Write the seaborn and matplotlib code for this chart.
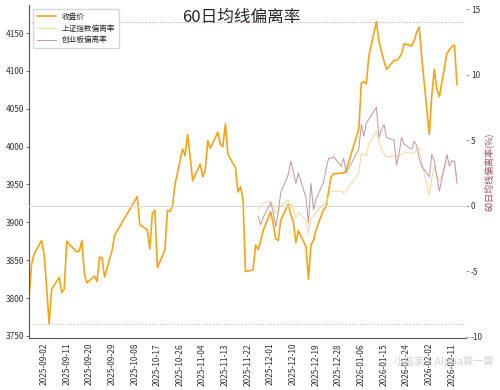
import matplotlib
matplotlib.use("Agg")
import matplotlib.pyplot as plt
import matplotlib.dates as mdates
from matplotlib.ticker import FixedLocator
import seaborn as sns
import pandas as pd

# ---- data ----
close_dates = [
    "2025-08-27", "2025-08-28", "2025-08-29", "2025-09-01", "2025-09-02", "2025-09-03", "2025-09-04",
    "2025-09-05", "2025-09-08", "2025-09-09", "2025-09-10", "2025-09-11", "2025-09-12", "2025-09-15",
    "2025-09-16", "2025-09-17", "2025-09-18", "2025-09-19", "2025-09-22", "2025-09-23", "2025-09-24",
    "2025-09-25", "2025-09-26", "2025-09-29", "2025-09-30", "2025-10-09", "2025-10-10", "2025-10-13",
    "2025-10-14", "2025-10-15", "2025-10-16", "2025-10-17", "2025-10-20", "2025-10-21", "2025-10-22",
    "2025-10-23", "2025-10-24", "2025-10-27", "2025-10-28", "2025-10-29", "2025-10-30", "2025-10-31",
    "2025-11-03", "2025-11-04", "2025-11-05", "2025-11-06", "2025-11-07", "2025-11-10", "2025-11-11",
    "2025-11-12", "2025-11-13", "2025-11-14", "2025-11-17", "2025-11-18", "2025-11-19", "2025-11-20",
    "2025-11-21", "2025-11-24", "2025-11-25", "2025-11-26", "2025-11-27", "2025-11-28", "2025-12-01",
    "2025-12-02", "2025-12-03", "2025-12-04", "2025-12-05", "2025-12-08", "2025-12-09", "2025-12-10",
    "2025-12-11", "2025-12-12", "2025-12-15", "2025-12-16", "2025-12-17", "2025-12-18", "2025-12-19",
    "2025-12-22", "2025-12-23", "2025-12-24", "2025-12-25", "2025-12-26", "2025-12-29", "2025-12-30",
    "2025-12-31", "2026-01-05", "2026-01-06", "2026-01-07", "2026-01-08", "2026-01-09", "2026-01-12",
    "2026-01-13", "2026-01-14", "2026-01-15", "2026-01-16", "2026-01-19", "2026-01-20", "2026-01-21",
    "2026-01-22", "2026-01-23", "2026-01-26", "2026-01-27", "2026-01-28", "2026-01-29", "2026-01-30",
    "2026-02-02", "2026-02-03", "2026-02-04", "2026-02-05", "2026-02-06", "2026-02-09", "2026-02-10",
    "2026-02-11", "2026-02-12", "2026-02-13",
]
close_vals = [
    3800, 3844, 3858, 3876, 3858, 3814, 3766,
    3812, 3827, 3807, 3812, 3875, 3871, 3861,
    3862, 3876, 3832, 3820, 3829, 3822, 3854,
    3853, 3828, 3863, 3883, 3934, 3897, 3890,
    3865, 3912, 3916, 3840, 3864, 3916, 3914,
    3922, 3950, 3997, 3988, 4016, 3987, 3955,
    3977, 3960, 3969, 4008, 3998, 4019, 4003,
    4000, 4030, 3990, 3972, 3940, 3947, 3931,
    3835, 3837, 3870, 3864, 3875, 3889, 3914,
    3898, 3878, 3876, 3903, 3924, 3910, 3901,
    3873, 3889, 3868, 3825, 3870, 3876, 3890,
    3917, 3920, 3941, 3960, 3964, 3965, 3965,
    3969, 4023, 4084, 4086, 4083, 4120, 4165,
    4139, 4126, 4113, 4102, 4114, 4114, 4117,
    4123, 4136, 4133, 4140, 4151, 4158, 4118,
    4016, 4068, 4102, 4076, 4066, 4123, 4128,
    4132, 4134, 4082,
]

# deviation series start once 60 trading days are available
dev_dates = close_dates[59:]
sh_dev = [
    -0.3, 0.0, 0.2, 0.35, 0.0, -0.6, -0.4, 0.0, 0.4, 0.1,
    -0.3, -0.9, -0.5, -1.1, -2.1, -1.0, -0.8, -0.5, 0.1, 0.2,
    0.7, 1.1, 1.1, 1.1, 1.0, 1.1, 2.5, 4.0, 3.9, 3.8,
    4.7, 5.7, 4.9, 4.4, 4.0, 3.7, 3.8, 3.8, 3.8, 3.9,
    4.1, 4.0, 4.0, 4.3, 4.4, 3.3, 0.8, 2.1, 3.0, 2.3,
    1.9, 3.3, 3.4, 3.4, 3.4, 2.2,
]
cyb_dev = [
    -0.8, -1.45, -0.9, 0.25, -0.5, -1.6, -0.5, 1.0, 2.4, 3.4,
    2.6, 1.7, 2.5, 0.6, -1.3, 1.7, -0.3, 0.5, 1.8, 2.8,
    3.6, 3.6, 3.75, 3.0, 3.6, 2.5, 4.3, 6.2, 5.3, 6.3,
    6.6, 7.5, 5.2, 5.8, 6.2, 5.2, 5.0, 3.1, 4.0, 5.2,
    4.7, 4.3, 4.9, 4.6, 3.6, 3.0, 2.2, 3.9, 3.4, 2.2,
    1.1, 3.9, 3.0, 3.4, 3.4, 1.7,
]

tick_dates = [
    "2025-09-02", "2025-09-11", "2025-09-20", "2025-09-29", "2025-10-08", "2025-10-17",
    "2025-10-26", "2025-11-04", "2025-11-13", "2025-11-22", "2025-12-01", "2025-12-10",
    "2025-12-19", "2025-12-28", "2026-01-06", "2026-01-15", "2026-01-24", "2026-02-02",
    "2026-02-11",
]

l0 = "收盘价"
l1 = "上证指数偏离率"
l2 = "创业板偏离率"

c_close = "#f5a414"
c_sh = "#f3d79b"
c_cyb = "#bd95a4"

FONT = ["Noto Sans CJK SC", "DejaVu Sans"]

sns.set_style("white")
plt.rcParams["font.family"] = FONT
plt.rcParams["axes.unicode_minus"] = False

df_close = pd.DataFrame({"date": pd.to_datetime(close_dates), "close": close_vals})
df_dev = pd.DataFrame({"date": pd.to_datetime(dev_dates), "sh": sh_dev, "cyb": cyb_dev})

fig = plt.figure(figsize=(5, 3.9), dpi=100)
ax = fig.add_axes([0.058, 0.133, 0.874, 0.854])
ax2 = ax.twinx()

sns.lineplot(data=df_close, x="date", y="close", color=c_close, linewidth=1.2, label=l0, ax=ax, legend=False)
sns.lineplot(data=df_dev, x="date", y="sh", color=c_sh, linewidth=0.7, label=l1, ax=ax2, legend=False)
sns.lineplot(data=df_dev, x="date", y="cyb", color=c_cyb, linewidth=0.7, label=l2, ax=ax2, legend=False)

ax.axhline(max(close_vals), color="#e6a5ae", linestyle=(0, (1, 1.5)), linewidth=0.8)
ax.axhline(min(close_vals), color="#a9d2a3", linestyle=(0, (1, 1.5)), linewidth=0.8)
ax2.axhline(0, color="#d9d9d9", linewidth=0.8, zorder=0)

ax.set_ylim(3747, 4187)
ax.set_yticks([3750, 3800, 3850, 3900, 3950, 4000, 4050, 4100, 4150])
ax2.set_ylim(-10.1, 15.3)
ax2.set_yticks([-10, -5, 0, 5, 10, 15])
ax.set_xlim(pd.Timestamp("2025-08-27"), pd.Timestamp("2026-02-16 14:00"))

ax.xaxis.set_major_locator(FixedLocator(mdates.date2num(pd.to_datetime(tick_dates))))
ax.xaxis.set_major_formatter(mdates.DateFormatter("%Y-%m-%d"))
plt.setp(ax.get_xticklabels(), rotation=90)

ax.set_xlabel("")
ax.set_ylabel("")
ax2.set_ylabel("60日均线偏离率(%)", color="#9c4a4f", fontsize=6.5, labelpad=1)

for s in ["top", "right"]:
    ax.spines[s].set_visible(False)
for s in ["top", "right", "left", "bottom"]:
    ax2.spines[s].set_visible(False)
ax.spines["left"].set_color("#555555")
ax.spines["bottom"].set_color("#555555")
ax.tick_params(axis="both", labelsize=6, length=2, width=0.6, color="#555555", pad=1.5,
               labelcolor="#333333")
ax2.tick_params(axis="y", labelsize=6, length=2, width=0.6, color="#888888", pad=1.5,
                labelcolor="#333333")

ax.set_title("60日均线偏离率", fontsize=12, y=0.925, x=0.485)

h1, lab1 = ax.get_legend_handles_labels()
h2, lab2 = ax2.get_legend_handles_labels()
ax2.legend(h1 + h2, lab1 + lab2, loc="upper left", prop={"size": 5.5, "family": FONT},
           frameon=True, borderpad=0.5, handlelength=2.5)

# platform watermark, as in the reference
fig.text(0.99, 0.06, "小楷家·Alpha算一算", ha="right", va="bottom", fontsize=7.5,
         color="#cfcfcf", alpha=0.9)

plt.savefig("out.png", dpi=100)
